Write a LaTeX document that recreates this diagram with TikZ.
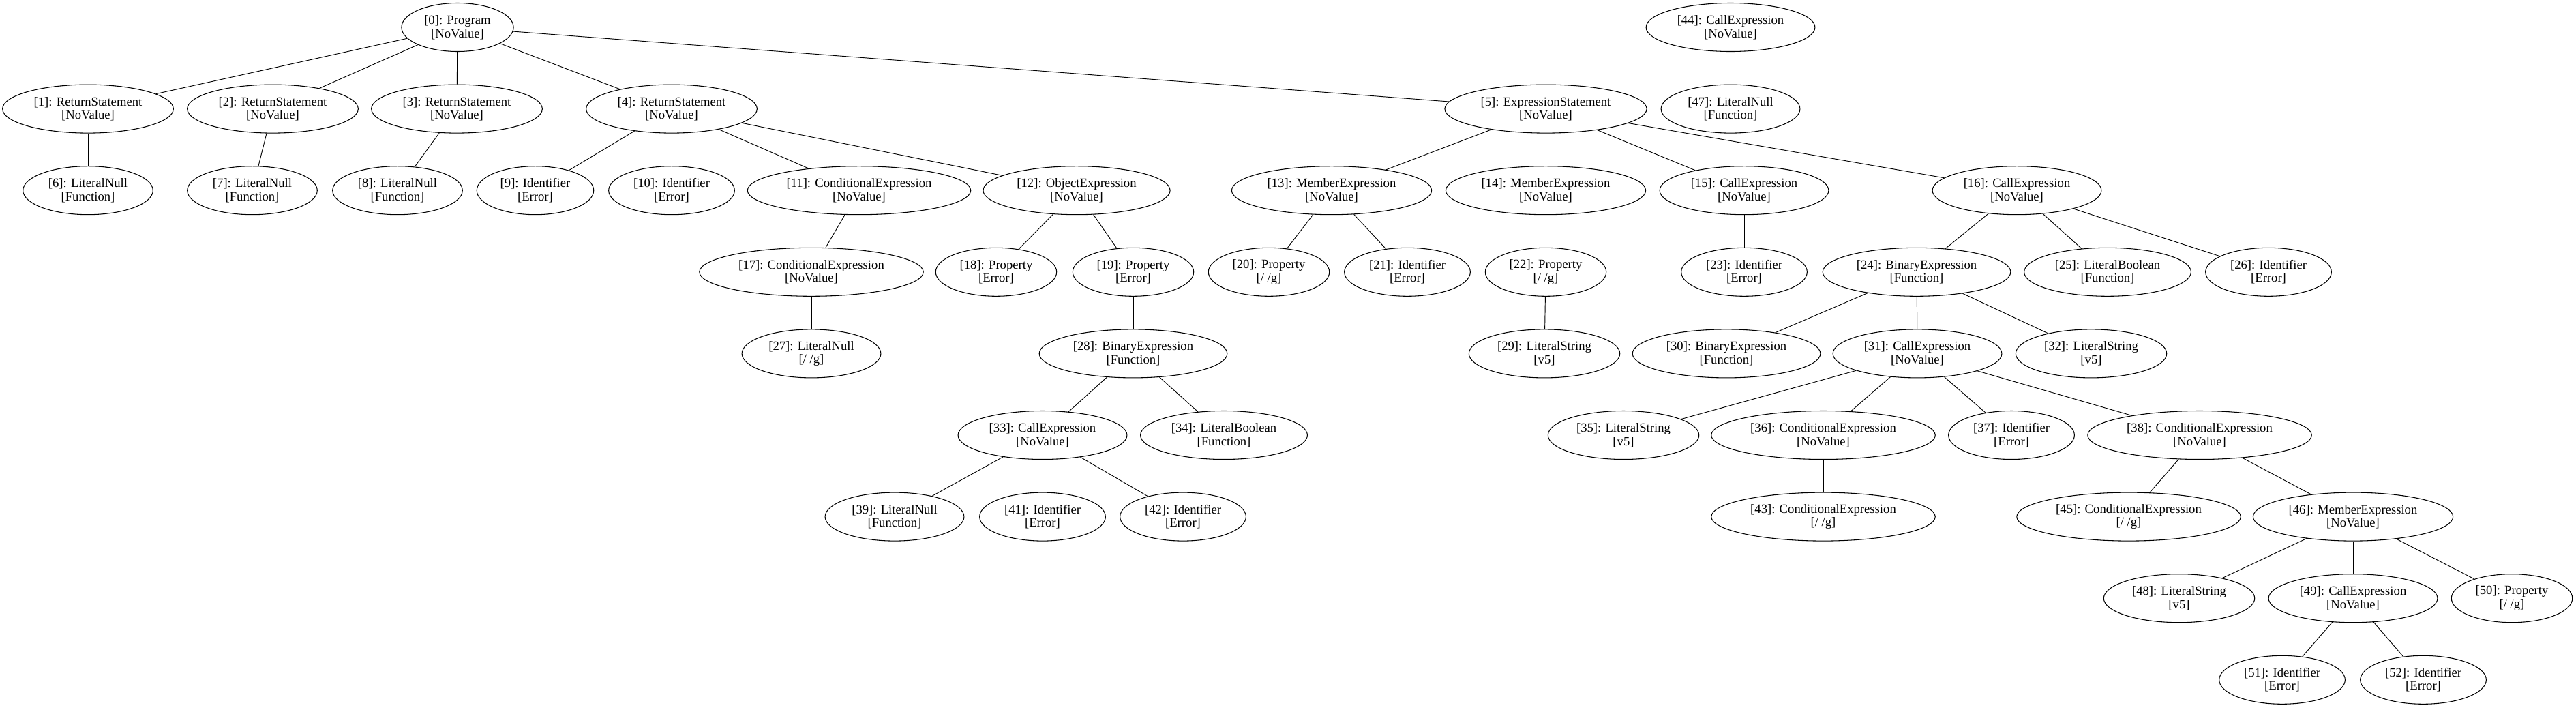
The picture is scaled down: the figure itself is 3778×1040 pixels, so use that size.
\documentclass[tikz,border=0pt]{standalone}
\usepackage{fontspec}
\setmainfont{Liberation Serif}
\usepackage{tikz}
\usepackage{xcolor}
\usetikzlibrary{shapes.geometric}
\definecolor{inkblack}{RGB}{0,0,0}
\def\nodeStroke{0.8pt}
\def\edgeStroke{0.7pt}

\begin{document}
\begin{tikzpicture}[x=0.75pt, y=-0.75pt,
  astnode/.style={ellipse, draw=inkblack, line width=\nodeStroke, align=center,
    inner xsep=7pt, inner ysep=2pt, minimum height=53.25pt,
    font=\fontsize{14pt}{14.7pt}\selectfont},
  astedge/.style={inkblack, line width=\edgeStroke}]

% Grid dimensions
\def\rowh{119.6}
\def\yzero{40}

\useasboundingbox (0,0) rectangle (3778,1040);

% --- Level 0 ---
\node[astnode] (n0) at (671, \yzero) {[0]: Program\\{}[NoValue]};
\node[astnode] (n44) at (2538, \yzero) {[44]: CallExpression\\{}[NoValue]};

% --- Level 1 ---
\node[astnode] (n1) at (129, \yzero+\rowh) {[1]: ReturnStatement\\{}[NoValue]};
\node[astnode] (n2) at (400, \yzero+\rowh) {[2]: ReturnStatement\\{}[NoValue]};
\node[astnode] (n3) at (670, \yzero+\rowh) {[3]: ReturnStatement\\{}[NoValue]};
\node[astnode] (n4) at (985, \yzero+\rowh) {[4]: ReturnStatement\\{}[NoValue]};
\node[astnode] (n5) at (2267, \yzero+\rowh) {[5]: ExpressionStatement\\{}[NoValue]};
\node[astnode] (n47) at (2538, \yzero+\rowh) {[47]: LiteralNull\\{}[Function]};

% --- Level 2 ---
\node[astnode] (n6) at (129, \yzero+2*\rowh) {[6]: LiteralNull\\{}[Function]};
\node[astnode] (n7) at (370, \yzero+2*\rowh) {[7]: LiteralNull\\{}[Function]};
\node[astnode] (n8) at (583, \yzero+2*\rowh) {[8]: LiteralNull\\{}[Function]};
\node[astnode] (n9) at (785, \yzero+2*\rowh) {[9]: Identifier\\{}[Error]};
\node[astnode] (n10) at (985, \yzero+2*\rowh) {[10]: Identifier\\{}[Error]};
\node[astnode] (n11) at (1260, \yzero+2*\rowh) {[11]: ConditionalExpression\\{}[NoValue]};
\node[astnode] (n12) at (1579, \yzero+2*\rowh) {[12]: ObjectExpression\\{}[NoValue]};
\node[astnode] (n13) at (1953, \yzero+2*\rowh) {[13]: MemberExpression\\{}[NoValue]};
\node[astnode] (n14) at (2267, \yzero+2*\rowh) {[14]: MemberExpression\\{}[NoValue]};
\node[astnode] (n15) at (2558, \yzero+2*\rowh) {[15]: CallExpression\\{}[NoValue]};
\node[astnode] (n16) at (2958, \yzero+2*\rowh) {[16]: CallExpression\\{}[NoValue]};

% --- Level 3 ---
\node[astnode] (n17) at (1190, \yzero+3*\rowh) {[17]: ConditionalExpression\\{}[NoValue]};
\node[astnode] (n18) at (1461, \yzero+3*\rowh) {[18]: Property\\{}[Error]};
\node[astnode] (n19) at (1662, \yzero+3*\rowh) {[19]: Property\\{}[Error]};
\node[astnode] (n20) at (1861, \yzero+3*\rowh) {[20]: Property\\{}[/ /g]};
\node[astnode] (n21) at (2064, \yzero+3*\rowh) {[21]: Identifier\\{}[Error]};
\node[astnode] (n22) at (2267, \yzero+3*\rowh) {[22]: Property\\{}[/ /g]};
\node[astnode] (n23) at (2558, \yzero+3*\rowh) {[23]: Identifier\\{}[Error]};
\node[astnode] (n24) at (2811, \yzero+3*\rowh) {[24]: BinaryExpression\\{}[Function]};
\node[astnode] (n25) at (3091, \yzero+3*\rowh) {[25]: LiteralBoolean\\{}[Function]};
\node[astnode] (n26) at (3327, \yzero+3*\rowh) {[26]: Identifier\\{}[Error]};

% --- Level 4 ---
\node[astnode] (n27) at (1190, \yzero+4*\rowh) {[27]: LiteralNull\\{}[/ /g]};
\node[astnode] (n28) at (1662, \yzero+4*\rowh) {[28]: BinaryExpression\\{}[Function]};
\node[astnode] (n29) at (2265, \yzero+4*\rowh) {[29]: LiteralString\\{}[v5]};
\node[astnode] (n30) at (2532, \yzero+4*\rowh) {[30]: BinaryExpression\\{}[Function]};
\node[astnode] (n31) at (2812, \yzero+4*\rowh) {[31]: CallExpression\\{}[NoValue]};
\node[astnode] (n32) at (3067, \yzero+4*\rowh) {[32]: LiteralString\\{}[v5]};

% --- Level 5 ---
\node[astnode] (n33) at (1529, \yzero+5*\rowh) {[33]: CallExpression\\{}[NoValue]};
\node[astnode] (n34) at (1795, \yzero+5*\rowh) {[34]: LiteralBoolean\\{}[Function]};
\node[astnode] (n35) at (2381, \yzero+5*\rowh) {[35]: LiteralString\\{}[v5]};
\node[astnode] (n36) at (2674, \yzero+5*\rowh) {[36]: ConditionalExpression\\{}[NoValue]};
\node[astnode] (n37) at (2950, \yzero+5*\rowh) {[37]: Identifier\\{}[Error]};
\node[astnode] (n38) at (3226, \yzero+5*\rowh) {[38]: ConditionalExpression\\{}[NoValue]};

% --- Level 6 ---
\node[astnode] (n39) at (1312, \yzero+6*\rowh) {[39]: LiteralNull\\{}[Function]};
\node[astnode] (n41) at (1529, \yzero+6*\rowh) {[41]: Identifier\\{}[Error]};
\node[astnode] (n42) at (1735, \yzero+6*\rowh) {[42]: Identifier\\{}[Error]};
\node[astnode] (n43) at (2674, \yzero+6*\rowh) {[43]: ConditionalExpression\\{}[/ /g]};
\node[astnode] (n45) at (3122, \yzero+6*\rowh) {[45]: ConditionalExpression\\{}[/ /g]};
\node[astnode] (n46) at (3451, \yzero+6*\rowh) {[46]: MemberExpression\\{}[NoValue]};

% --- Level 7 ---
\node[astnode] (n48) at (3196, \yzero+7*\rowh) {[48]: LiteralString\\{}[v5]};
\node[astnode] (n49) at (3451, \yzero+7*\rowh) {[49]: CallExpression\\{}[NoValue]};
\node[astnode] (n50) at (3684, \yzero+7*\rowh) {[50]: Property\\{}[/ /g]};

% --- Level 8 ---
\node[astnode] (n51) at (3347, \yzero+8*\rowh) {[51]: Identifier\\{}[Error]};
\node[astnode] (n52) at (3554, \yzero+8*\rowh) {[52]: Identifier\\{}[Error]};

% Tree edges
\foreach \a/\b in {0/1, 0/2, 0/3, 0/4, 0/5, 1/6, 2/7, 3/8,
  4/9, 4/10, 4/11, 4/12, 5/13, 5/14, 5/15, 5/16,
  11/17, 17/27, 12/18, 12/19, 19/28, 28/33, 28/34,
  33/39, 33/41, 33/42, 13/20, 13/21, 14/22, 22/29, 15/23,
  16/24, 16/25, 16/26, 24/30, 24/31, 24/32,
  31/35, 31/36, 31/37, 31/38, 36/43, 38/45, 38/46,
  46/48, 46/49, 46/50, 49/51, 49/52, 44/47} {
  \draw[astedge] (n\a) -- (n\b);
}

\end{tikzpicture}
\end{document}
